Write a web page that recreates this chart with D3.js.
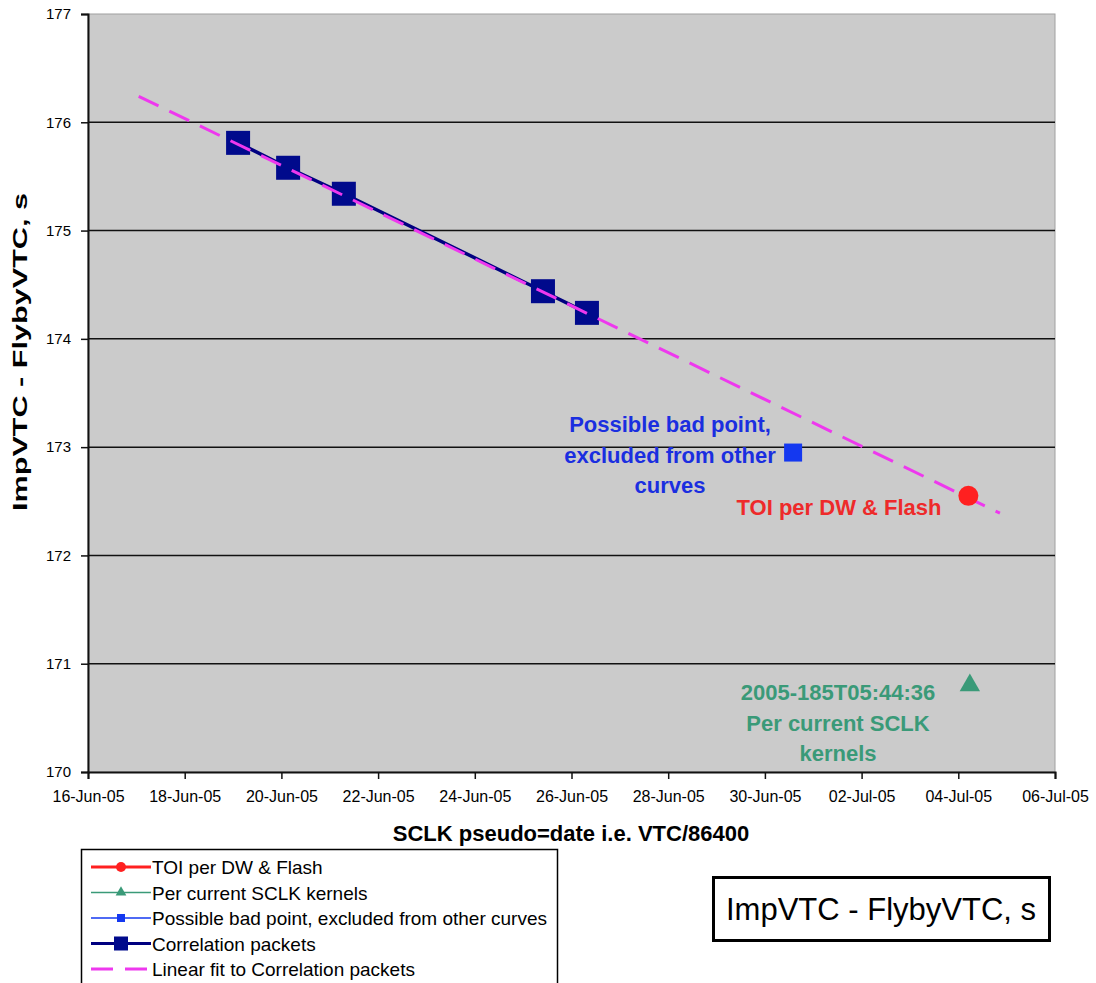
<!DOCTYPE html>
<html>
<head>
<meta charset="utf-8">
<script src="https://cdn.jsdelivr.net/npm/d3@7"></script>
<style>
  body { margin: 0; background: #fff; }
  text { font-family: "Liberation Sans", Arial, sans-serif; }
</style>
</head>
<body>
<script>
// data
var corrDates = ["2005-06-19T02:30", "2005-06-20T03:20", "2005-06-21T07:00", "2005-06-25T09:50", "2005-06-26T07:40"];
var corrValues = [175.81, 175.58, 175.34, 174.44, 174.24];
var fitDates = ["2005-06-17T01:10", "2005-07-04T20:40"];
var fitValues = [176.24, 172.39];
var badDates = ["2005-06-30T14:00"];
var badValues = [172.95];
var toiDates = ["2005-07-04T05:00"];
var toiValues = [172.55];
var sclkDates = ["2005-07-04T05:44"];
var sclkValues = [170.8];
var yTicks = [170, 171, 172, 173, 174, 175, 176, 177];
var legendLabels = ["TOI per DW & Flash", "Per current SCLK kernels",
  "Possible bad point, excluded from other curves", "Correlation packets",
  "Linear fit to Correlation packets"];

var width = 1096, height = 983;
var margin = { left: 88, right: 41, top: 14, bottom: 211 };
var parse = d3.timeParse("%Y-%m-%dT%H:%M");

function pts(dates, vals) {
  return dates.map(function (d, i) { return { x: parse(d), y: vals[i] }; });
}

var svg = d3.select("body").append("svg")
  .attr("width", width)
  .attr("height", height);

var xScale = d3.scaleTime()
  .domain([new Date(2005, 5, 16), new Date(2005, 6, 6)])
  .range([margin.left, width - margin.right]);
var yScale = d3.scaleLinear()
  .domain([170, 177])
  .range([height - margin.bottom, margin.top]);

// plot background
svg.append("rect")
  .attr("x", margin.left)
  .attr("y", margin.top)
  .attr("width", width - margin.left - margin.right)
  .attr("height", height - margin.top - margin.bottom)
  .attr("fill", "#cbcbcb")
  .attr("stroke", "#a0a0a0");

// grid lines
svg.selectAll("line.grid")
  .data(yTicks.slice(1, -1))
  .enter()
  .append("line")
  .attr("class", "grid")
  .attr("x1", margin.left)
  .attr("x2", width - margin.right)
  .attr("y1", function (d) { return yScale(d); })
  .attr("y2", function (d) { return yScale(d); })
  .attr("stroke", "#111")
  .attr("stroke-width", 1.5);

var xAxis = d3.axisBottom(xScale)
  .tickValues(d3.timeDay.range(new Date(2005, 5, 16), new Date(2005, 6, 7), 2))
  .tickFormat(d3.timeFormat("%d-%b-%y"))
  .tickSize(7)
  .tickPadding(12);
var yAxis = d3.axisLeft(yScale)
  .tickValues(yTicks)
  .tickFormat(d3.format("d"))
  .tickSize(7)
  .tickPadding(10);

var gx = svg.append("g")
  .attr("transform", "translate(0," + (height - margin.bottom) + ")")
  .call(xAxis);
var gy = svg.append("g")
  .attr("transform", "translate(" + margin.left + ",0)")
  .call(yAxis);
[gx, gy].forEach(function (g) {
  g.select(".domain").attr("stroke", "#111").attr("stroke-width", 2);
  g.selectAll(".tick line").attr("stroke", "#111").attr("stroke-width", 1.5);
  g.selectAll(".tick text").attr("fill", "#000")
    .style("font-family", "Liberation Sans, Arial, sans-serif");
});
gx.selectAll(".tick text").style("font-size", "16px");
gy.selectAll(".tick text").style("font-size", "15px");

// axis titles
svg.append("text")
  .attr("x", 571)
  .attr("y", 841)
  .attr("text-anchor", "middle")
  .style("font-size", "22px")
  .style("font-weight", "bold")
  .text("SCLK pseudo=date i.e. VTC/86400");
svg.append("text")
  .attr("transform", "translate(27," + 352 + ") rotate(-90)")
  .attr("text-anchor", "middle")
  .attr("textLength", 318)
  .attr("lengthAdjust", "spacingAndGlyphs")
  .style("font-size", "21px")
  .style("font-weight", "bold")
  .text("ImpVTC - FlybyVTC, s");

var line = d3.line()
  .x(function (d) { return xScale(d.x); })
  .y(function (d) { return yScale(d.y); });

// correlation packets
var corr = pts(corrDates, corrValues);
svg.append("path")
  .datum(corr)
  .attr("d", line)
  .attr("fill", "none")
  .attr("stroke", "#000080")
  .attr("stroke-width", 3.5);
svg.selectAll("rect.corr")
  .data(corr)
  .enter()
  .append("rect")
  .attr("class", "corr")
  .attr("x", function (d) { return xScale(d.x) - 12; })
  .attr("y", function (d) { return yScale(d.y) - 12; })
  .attr("width", 24)
  .attr("height", 24)
  .attr("fill", "#000a8c");

// linear fit
svg.append("path")
  .datum(pts(fitDates, fitValues))
  .attr("d", line)
  .attr("fill", "none")
  .attr("stroke", "#ee38ee")
  .attr("stroke-width", 3)
  .attr("stroke-dasharray", "22,12");

// possible bad point
svg.selectAll("rect.bad")
  .data(pts(badDates, badValues))
  .enter()
  .append("rect")
  .attr("class", "bad")
  .attr("x", function (d) { return xScale(d.x) - 9; })
  .attr("y", function (d) { return yScale(d.y) - 9; })
  .attr("width", 18)
  .attr("height", 18)
  .attr("fill", "#1438f0");

// TOI
svg.selectAll("circle.toi")
  .data(pts(toiDates, toiValues))
  .enter()
  .append("circle")
  .attr("class", "toi")
  .attr("cx", function (d) { return xScale(d.x); })
  .attr("cy", function (d) { return yScale(d.y); })
  .attr("r", 10)
  .attr("fill", "#ff2020");

// SCLK kernels
svg.selectAll("path.sclk")
  .data(pts(sclkDates, sclkValues))
  .enter()
  .append("path")
  .attr("class", "sclk")
  .attr("d", d3.symbol().type(d3.symbolTriangle).size(180))
  .attr("transform", function (d) {
    return "translate(" + xScale(d.x) + "," + yScale(d.y) + ")";
  })
  .attr("fill", "#3a9a78");

// annotations
function note(lines, x, y, color) {
  var t = svg.append("text")
    .attr("text-anchor", "middle")
    .attr("fill", color)
    .style("font-size", "22px")
    .style("font-weight", "bold");
  lines.forEach(function (s, i) {
    t.append("tspan").attr("x", x).attr("y", y + i * 30.5).text(s);
  });
}
note(["Possible bad point,", "excluded from other", "curves"], 670, 432, "#1a2ee0");
note(["TOI per DW & Flash"], 839, 515, "#ee2a2a");
note(["2005-185T05:44:36", "Per current SCLK", "kernels"], 838, 700, "#3a9a78");

// legend
var lg = svg.append("g");
lg.append("rect")
  .attr("x", 81.5).attr("y", 849.5)
  .attr("width", 476).attr("height", 140)
  .attr("fill", "#fff").attr("stroke", "#000").attr("stroke-width", 1.5);
var legendY = d3.scaleLinear().domain([0, 4]).range([867, 969]);
var legendStyle = [
  { color: "#ff2020", w: 3, dash: null, mark: "circle" },
  { color: "#3a9a78", w: 1.5, dash: null, mark: "triangle" },
  { color: "#1438f0", w: 1.5, dash: null, mark: "small" },
  { color: "#000080", w: 3, dash: null, mark: "big" },
  { color: "#ee38ee", w: 3, dash: "22,12", mark: null }
];
legendLabels.forEach(function (lab, i) {
  var y = legendY(i), s = legendStyle[i];
  lg.append("line")
    .attr("x1", 91).attr("x2", 151).attr("y1", y).attr("y2", y)
    .attr("stroke", s.color).attr("stroke-width", s.w)
    .attr("stroke-dasharray", s.dash);
  if (s.mark === "circle") {
    lg.append("circle").attr("cx", 121).attr("cy", y).attr("r", 5).attr("fill", s.color);
  } else if (s.mark === "triangle") {
    lg.append("path").attr("d", d3.symbol().type(d3.symbolTriangle).size(50))
      .attr("transform", "translate(121," + y + ")").attr("fill", s.color);
  } else if (s.mark === "small") {
    lg.append("rect").attr("x", 117).attr("y", y - 4).attr("width", 8).attr("height", 8).attr("fill", s.color);
  } else if (s.mark === "big") {
    lg.append("rect").attr("x", 114).attr("y", y - 7).attr("width", 14).attr("height", 14).attr("fill", "#000a8c");
  }
  lg.append("text")
    .attr("x", 152).attr("y", y + 7)
    .style("font-size", "19px")
    .text(lab);
});

// title box
svg.append("rect")
  .attr("x", 713.5).attr("y", 877.5)
  .attr("width", 336).attr("height", 63)
  .attr("fill", "#fff").attr("stroke", "#000").attr("stroke-width", 3);
svg.append("text")
  .attr("x", 881).attr("y", 920)
  .attr("text-anchor", "middle")
  .style("font-size", "31px")
  .text("ImpVTC - FlybyVTC, s");
</script>
</body>
</html>
